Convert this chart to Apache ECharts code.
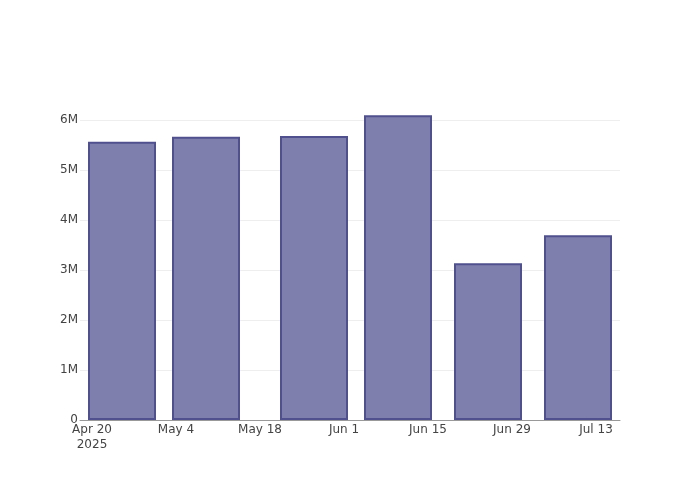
<!DOCTYPE html>
<html>
<head>
<meta charset="utf-8">
<script src="https://cdn.jsdelivr.net/npm/echarts@6/dist/echarts.min.js"></script>
<style>html,body{margin:0;padding:0;background:#fff}#c{width:700px;height:500px}</style>
</head>
<body>
<div id="c"></div>
<script>
var barDates = ['2025-04-25', '2025-05-09', '2025-05-27', '2025-06-10', '2025-06-25', '2025-07-10'];
var barValues = [5566000, 5666000, 5680000, 6094000, 3134000, 3694000];
var tickDates = ['2025-04-20', '2025-05-04', '2025-05-18', '2025-06-01', '2025-06-15', '2025-06-29', '2025-07-13'];
var tickLabels = ['Apr 20\n2025', 'May 4', 'May 18', 'Jun 1', 'Jun 15', 'Jun 29', 'Jul 13'];
var yTicks = [0, 1000000, 2000000, 3000000, 4000000, 5000000, 6000000];
var yTickLabels = ['0', '1M', '2M', '3M', '4M', '5M', '6M'];
var axisStart = '2025-04-18';
var axisEnd = '2025-07-17';

var DAY = 86400000;
var t0 = Date.parse(tickDates[0]);
function dayOf(s) { return Math.round((Date.parse(s) - t0) / DAY); }
var tickDays = tickDates.map(dayOf);
var data = barDates.map(function (d, i) { return [dayOf(d), barValues[i]]; });

var chart = echarts.init(document.getElementById('c'), null, {renderer: 'canvas'});
chart.setOption({
  animation: false,
  backgroundColor: '#fff',
  grid: {left: 80, right: 80, top: 120, bottom: 80, containLabel: false},
  xAxis: {
    type: 'value',
    min: dayOf(axisStart),
    max: dayOf(axisEnd),
    axisLine: {show: true, lineStyle: {color: '#999', width: 1}},
    axisTick: {show: false},
    splitLine: {show: false},
    axisLabel: {
      customValues: tickDays,
      margin: 2,
      color: '#444',
      fontSize: 12,
      lineHeight: 15,
      fontFamily: 'DejaVu Sans',
      formatter: function (v) {
        var i = tickDays.indexOf(v);
        return i >= 0 ? tickLabels[i] : '';
      }
    }
  },
  yAxis: {
    type: 'value',
    min: 0,
    max: 6000000,
    interval: 1000000,
    axisLine: {show: false},
    axisTick: {show: false},
    splitLine: {show: true, lineStyle: {color: '#eeeeee', width: 1}},
    axisLabel: {
      margin: 2,
      color: '#444',
      fontSize: 12,
      fontFamily: 'DejaVu Sans',
      padding: [4, 0, 0, 0],
      formatter: function (v) {
        var i = yTicks.indexOf(v);
        return i >= 0 ? yTickLabels[i] : '';
      }
    }
  },
  series: [{
    type: 'bar',
    data: data,
    barWidth: 68,
    clip: false,
    itemStyle: {color: '#7f7fae', borderColor: '#50508f', borderWidth: 2}
  }]
});
</script>
</body>
</html>
